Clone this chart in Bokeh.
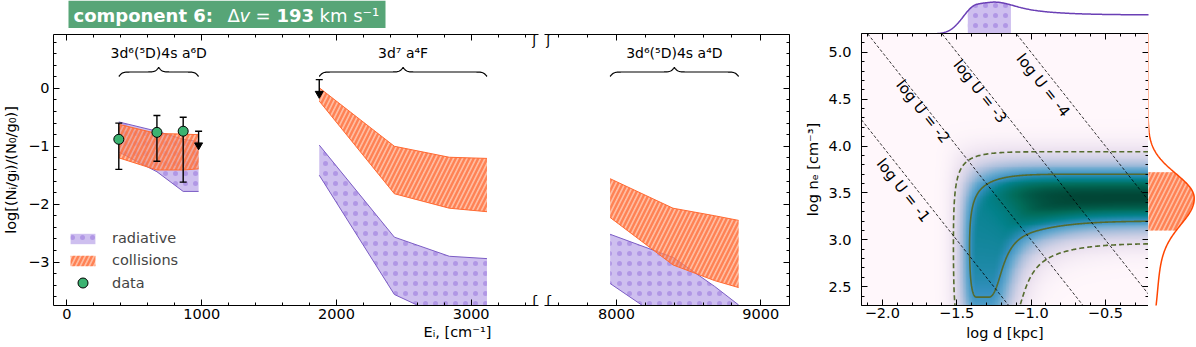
import numpy as np
from bokeh.plotting import figure
from bokeh.models import (Range1d, LinearAxis, SingleIntervalTicker, Label, BoxAnnotation,
                          Legend, LegendItem, ColumnDataSource, LinearColorMapper,
                          CustomJSTickFormatter, Title)
from bokeh.layouts import row, column
from bokeh.embed import file_html
from bokeh.resources import INLINE

FONT = "DejaVu Sans"

# ---------------------------------------------------------------- data
# Fe II level energies (cm^-1) of the three multiplets
E_a6D = [384.79, 667.68, 862.61, 977.05]
E_a4F = [1872.60, 2430.14, 2837.95, 3117.46]
E_a4D = [7955.30, 8391.94, 8680.45, 8846.77]
group_labels = ["3d⁶(⁵D)4s a⁶D", "3d⁷ a⁴F", "3d⁶(⁵D)4s a⁴D"]

# model bands, log[(Ni/gi)/(N0/g0)]
rad_hi_a6D = [-0.58, -0.74, -0.88, -0.92]
rad_lo_a6D = [-1.10, -1.44, -1.78, -1.78]
col_hi_a6D = [-0.62, -0.78, -0.79, -0.80]
col_lo_a6D = [-1.20, -1.41, -1.41, -1.39]

rad_hi_a4F = [-0.98, -2.57, -2.90, -2.94]
rad_lo_a4F = [-1.50, -3.56, -4.00, -4.10]
col_hi_a4F = [0.01, -1.00, -1.19, -1.21]
col_lo_a4F = [-0.22, -1.82, -2.07, -2.13]

rad_hi_a4D = [-2.52, -2.92, -3.42, -3.74]
rad_lo_a4D = [-3.37, -4.11, -4.50, -4.80]
col_hi_a4D = [-1.56, -2.07, -2.20, -2.28]
col_lo_a4D = [-2.23, -3.05, -3.32, -3.44]

# measured populations
data_E = [384.79, 667.68, 862.61]
data_y = [-0.88, -0.76, -0.74]
data_hi = [-0.60, -0.47, -0.50]
data_lo = [-1.40, -1.26, -1.62]
# upper limits
ul_E = [977.05, 1872.60]
ul_y = [-0.74, 0.15]

# axis limits
E_lim_low = (-100, 3500)
E_lim_high = (7500, 9200)
pop_lim = (-3.75, 0.93)
logd_lim = (-2.14, -0.21)
logne_lim = (2.3, 5.2)

# ionisation parameter lines: log ne = logU_zero - logU - 2 log d
logU_values = [-1, -2, -3, -4]
logU_zero = -1.0
logU_label_logd = [-1.80, -1.70, -1.31, -0.86]
logU_label_offset = [11, 5, 6, 11]

# posterior description
ne_peak = 3.45          # centre of the log ne band
ne_sigma = 0.25         # 1-sigma half width of the band
logd_edge_hi = -1.37    # left edge of the allowed region (too much radiation)
logd_edge_lo = -1.30    # where radiation alone gives the excitation
slope_hi = 2.9
slope_lo = 2.2
mix_floor = 0.72        # relative density where radiation dominates
mix_width = 0.35
ne_tail_width = 2.5     # gentle fall-off towards low density
ne_cut = 2.02           # low-density cut-off of the strip
ne_cut_width = 0.15
logd_interval = (-1.427, -1.131)
logne_interval = (3.10, 3.72)
contour_levels = [0.1465, 0.6065]

# ---------------------------------------------------------------- style
RAD_FILL = "#9370db"
RAD_EDGE = "#7b5cc4"
COL_FILL = "#ff9a70"
COL_HATCH = "#ff6a33"
COL_EDGE = "#ff6a33"
GREEN = "#57a577"
CONT = "#556b2f"

# frames in page pixels (left, right, top, bottom)
FA = (48, 538, 34, 305)
FB = (544, 789, 34, 305)
FM = (861, 1148, 33, 305)


def to_data(px, py, frame, xr, yr):
    l, r, t, b = frame
    return (xr[0] + (px - l) / (r - l) * (xr[1] - xr[0]),
            yr[1] - (py - t) / (b - t) * (yr[1] - yr[0]))


def fa(px, py):
    return to_data(px, py, FA, E_lim_low, pop_lim)


def fb(px, py):
    return to_data(px, py, FB, E_lim_high, pop_lim)


def fmt(dec):
    return CustomJSTickFormatter(code="const s = Math.abs(tick).toFixed(%d);"
                                      "return (tick < -1e-9 ? '\u2212' : '') + s;" % dec)


def add_axis(p, side, interval, labels=True, standoff=3, dec=0, label=None, label_standoff=5):
    ax = LinearAxis(ticker=SingleIntervalTicker(interval=interval, num_minor_ticks=5))
    ax.major_tick_in = 6
    ax.major_tick_out = 0
    ax.minor_tick_in = 3
    ax.minor_tick_out = 0
    ax.axis_line_color = "black"
    ax.major_tick_line_color = "black"
    ax.minor_tick_line_color = "black"
    ax.axis_line_width = 1
    ax.major_label_text_font = FONT
    if labels:
        ax.major_label_text_color = "black"
        ax.major_label_text_font_size = "14.5px"
        ax.major_label_standoff = standoff
        ax.formatter = fmt(dec)
    else:
        ax.major_label_text_color = None
        ax.major_label_text_font_size = "0px"
        ax.major_label_standoff = 0
    if label is not None:
        ax.axis_label = label
        ax.axis_label_text_font = FONT
        ax.axis_label_text_font_size = "14.5px"
        ax.axis_label_text_font_style = "normal"
        ax.axis_label_text_color = "black"
        ax.axis_label_standoff = label_standoff
    p.add_layout(ax, side)
    return ax


def mk_fig(width, height, xr, yr, borders):
    l, r, t, b = borders
    p = figure(width=width, height=height, x_range=xr, y_range=yr,
               x_axis_type=None, y_axis_type=None,
               min_border_left=l, min_border_right=r, min_border_top=t, min_border_bottom=b,
               output_backend="svg", toolbar_location=None)
    p.outline_line_color = None
    p.background_fill_color = "white"
    p.border_fill_color = "white"
    return p


def text(p, x, y, s, size="14.5px", align="center", style="normal", angle=0.0, color="black",
         baseline="middle"):
    lab = Label(x=x, y=y, text=s, text_font=FONT, text_font_size=size, text_align=align,
                text_baseline=baseline, text_font_style=style, angle=angle, text_color=color)
    p.add_layout(lab)
    return lab


def draw_bands(p, E, rhi, rlo, chi, clo):
    src = ColumnDataSource(dict(E=E, rhi=rhi, rlo=rlo, chi=chi, clo=clo))
    r_rad = p.varea(x="E", y1="rlo", y2="rhi", source=src, fill_color=RAD_FILL, fill_alpha=0.45,
                    hatch_pattern="dot", hatch_color=RAD_FILL, hatch_alpha=0.5,
                    hatch_scale=10, hatch_weight=1)
    p.line("E", "rhi", source=src, line_color=RAD_EDGE, line_width=1)
    p.line("E", "rlo", source=src, line_color=RAD_EDGE, line_width=1)
    r_col = p.varea(x="E", y1="clo", y2="chi", source=src, fill_color=COL_FILL, fill_alpha=0.65,
                    hatch_pattern="right_diagonal_line", hatch_color=COL_HATCH, hatch_alpha=0.7,
                    hatch_scale=9, hatch_weight=2.4)
    p.line("E", "chi", source=src, line_color=COL_EDGE, line_width=1)
    p.line("E", "clo", source=src, line_color=COL_EDGE, line_width=1)
    return r_rad, r_col


def brace(p, E, label, px_per_unit):
    y_base = fa(0, 76)[1]
    y_tip = fa(0, 67)[1]
    h = y_tip - y_base
    xs = np.linspace(min(E), max(E), 201)
    half = xs[:101]
    beta = 0.55 * px_per_unit
    yh = 1 / (1 + np.exp(-beta * (half - half[0]))) + 1 / (1 + np.exp(-beta * (half - half[-1])))
    ys = np.concatenate([yh, yh[-2::-1]])
    ys = y_base + (ys - 0.5) * h
    p.line(xs, ys, line_color="black", line_width=1.2)
    text(p, 0.5 * (min(E) + max(E)), fa(0, 52)[1], label, size="14px")


# ---------------------------------------------------------------- title strip
figTitle = mk_fig(800, 28, Range1d(0, 800), Range1d(28, 0), (0, 0, 0, 0))
figTitle.add_layout(BoxAnnotation(left=68, right=385, top=0, bottom=28, fill_color=GREEN,
                                  fill_alpha=1, line_color=None))
for s, px, style in [("component 6:", 73, "bold"), ("Δ", 227, "normal"), ("v", 239, "italic"),
                     ("=", 255, "normal"), ("193", 276, "bold"), ("km s⁻¹", 319, "normal")]:
    text(figTitle, px, 14.5, s, size="18px", align="left", style=style, color="white")

# ---------------------------------------------------------------- left panel (low E)
figA = mk_fig(544, 319, Range1d(*E_lim_low), Range1d(*pop_lim), (48, 6, 6, 42))
add_axis(figA, "below", 1000, True, 3, 0)
add_axis(figA, "left", 1, True, 4, 0, label="log[(Nᵢ/gᵢ)/(N₀/g₀)]", label_standoff=6)
add_axis(figA, "above", 1000, False)
figA.add_layout(Title(text="Eᵢ, [cm⁻¹]", align="left", offset=418 - FA[0],
                      text_font=FONT, text_font_size="14.5px", text_font_style="normal",
                      text_color="black", standoff=0), "below")

pxA = (FA[1] - FA[0]) / (E_lim_low[1] - E_lim_low[0])
rad1, col1 = draw_bands(figA, E_a6D, rad_hi_a6D, rad_lo_a6D, col_hi_a6D, col_lo_a6D)
draw_bands(figA, E_a4F, rad_hi_a4F, rad_lo_a4F, col_hi_a4F, col_lo_a4F)
brace(figA, E_a6D, group_labels[0], pxA)
brace(figA, E_a4F, group_labels[1], pxA)

# data with error bars
dsrc = ColumnDataSource(dict(E=data_E, y=data_y, hi=data_hi, lo=data_lo))
figA.segment(x0="E", y0="lo", x1="E", y1="hi", source=dsrc, line_color="black", line_width=1.4)
figA.scatter(x="E", y="hi", source=dsrc, marker="dash", size=7, line_color="black", line_width=1.4)
figA.scatter(x="E", y="lo", source=dsrc, marker="dash", size=7, line_color="black", line_width=1.4)
pts = figA.scatter(x="E", y="y", source=dsrc, marker="circle", size=10, fill_color="#3cb371",
                   line_color="black", line_width=1)

# upper limits
arrow_len = 14 / 57.9
usrc = ColumnDataSource(dict(E=ul_E, y=ul_y, end=[v - arrow_len for v in ul_y]))
figA.segment(x0="E", y0="y", x1="E", y1="end", source=usrc, line_color="black", line_width=1.4)
figA.scatter(x="E", y="y", source=usrc, marker="dash", size=7, line_color="black", line_width=1.4)
figA.scatter(x="E", y="end", source=usrc, marker="inverted_triangle", size=8,
             fill_color="black", line_color="black")

# legends
leg1 = Legend(items=[LegendItem(label="radiative", renderers=[rad1]),
                     LegendItem(label="collisions", renderers=[col1])],
              location=(14, 37), glyph_width=31, glyph_height=13, label_height=13,
              spacing=6, padding=0, margin=0, border_line_color=None, background_fill_alpha=0,
              label_standoff=14, label_text_font=FONT, label_text_font_size="14.5px")
leg2 = Legend(items=[LegendItem(label="data", renderers=[pts])],
              location=(14, 10), glyph_width=31, glyph_height=25, label_height=25,
              spacing=0, padding=0, margin=0, border_line_color=None, background_fill_alpha=0,
              label_standoff=14, label_text_font=FONT, label_text_font_size="14.5px")
figA.add_layout(leg1)
figA.add_layout(leg2)

# axis break marks
for py in (39, 300):
    text(figA, fa(534, 0)[0], fa(0, py)[1], "ʃ", size="14px")

# ---------------------------------------------------------------- left panel (high E)
figB = mk_fig(256, 319, Range1d(*E_lim_high), Range1d(*pop_lim), (0, 11, 6, 42))
add_axis(figB, "below", 1000, True, 3, 0)
add_axis(figB, "above", 1000, False)
add_axis(figB, "right", 1, False)
pxB = (FB[1] - FB[0]) / (E_lim_high[1] - E_lim_high[0])
draw_bands(figB, E_a4D, rad_hi_a4D, rad_lo_a4D, col_hi_a4D, col_lo_a4D)
brace(figB, E_a4D, group_labels[2], pxB)
for py in (39, 300):
    text(figB, fb(548, 0)[0], fb(0, py)[1], "ʃ", size="14px")

# ---------------------------------------------------------------- right panel
xr_main = Range1d(*logd_lim)
yr_main = Range1d(*logne_lim)
figM = mk_fig(348, 314, xr_main, yr_main, (61, 0, 0, 42))
add_axis(figM, "below", 0.5, True, 2, 1, label="log d [kpc]", label_standoff=4)
add_axis(figM, "left", 0.5, True, 10, 1, label="log nₑ [cm⁻³]", label_standoff=4)
add_axis(figM, "above", 0.5, False)
add_axis(figM, "right", 0.5, False)

base = ['#fff7fb', '#ece2f0', '#d0d1e6', '#a6bddb', '#67a9cf', '#3690c0', '#02818a', '#016c59', '#014636']
rgb = np.array([[int(c[i:i + 2], 16) for i in (1, 3, 5)] for c in base], float)
tp = np.linspace(0, 1, len(base))
palette = ['#%02x%02x%02x' % tuple(int(round(np.interp(t, tp, rgb[:, k]))) for k in range(3))
           for t in np.linspace(0, 1, 256)]
figM.background_fill_color = base[0]

xg = np.linspace(-2.3, -0.05, 451)
ng = np.linspace(2.0, 5.4, 341)
X, N = np.meshgrid(xg, ng)
lr_hi = ne_peak + slope_hi * (logd_edge_hi - X)
lr_lo = ne_peak + slope_lo * (logd_edge_lo - X)
neff_hi = 0.5 * np.log10(10 ** (2 * N) + 10 ** (2 * lr_hi))
neff_lo = np.log10(10 ** N + 10 ** lr_lo)
z_hi = np.clip(neff_hi - ne_peak, 0, None) / ne_sigma
z_lo = np.clip(ne_peak - neff_lo, 0, None) / ne_sigma
frac = 10 ** lr_lo / (10 ** N + 10 ** lr_lo)
mix = mix_floor + (1 - mix_floor) * np.exp(-(frac / mix_width) ** 2)
dn = np.clip(ne_peak - N, 0, None)
tail = np.exp(-0.5 * (dn / ne_tail_width) ** 2)
cut = 1 / (1 + np.exp(-(N - ne_cut) / ne_cut_width))
D = np.exp(-0.5 * (z_hi ** 2 + z_lo ** 2)) * mix * tail * cut
D = D / D.max()

cmap = LinearColorMapper(palette=palette, low=0, high=1)
figM.image(image=[D], x=xg[0], y=ng[0], dw=xg[-1] - xg[0], dh=ng[-1] - ng[0], color_mapper=cmap)

figM.contour(X, N, D, levels=[contour_levels[0]], line_color=CONT, line_width=1.6, line_dash="5 3")
figM.contour(X, N, D, levels=[contour_levels[1]], line_color=CONT, line_width=1.6)

xl = np.array(logd_lim)
sx = (FM[1] - FM[0]) / (logd_lim[1] - logd_lim[0])
sy = (FM[3] - FM[2]) / (logne_lim[1] - logne_lim[0])
ang = -np.arctan(2 * sy / sx)
for U, xlab, off in zip(logU_values, logU_label_logd, logU_label_offset):
    figM.line(xl, logU_zero - U - 2 * xl, line_color="black", line_width=0.8, line_dash="3 2")
    lx = xlab - off * np.sin(-ang) / sx
    ly = logU_zero - U - 2 * xlab - off * np.cos(-ang) / sy
    text(figM, lx, ly, "log U = %d" % U, size="15px", angle=ang)

# marginals
in_n = (ng >= logne_lim[0]) & (ng <= logne_lim[1])
in_x = (xg >= logd_lim[0]) & (xg <= logd_lim[1])
top = D[in_n, :].sum(axis=0)
top = top / top.max()
right = D[:, in_x].sum(axis=1)
right = right / right.max()

figT = mk_fig(396, 33, xr_main, Range1d(0.015, 1.05), (61, 48, 0, 0))
m = (xg >= logd_interval[0]) & (xg <= logd_interval[1])
figT.varea(x=xg[m], y1=0, y2=top[m], fill_color=RAD_FILL, fill_alpha=0.45, hatch_pattern="dot",
           hatch_color=RAD_FILL, hatch_alpha=0.5, hatch_scale=10, hatch_weight=1)
figT.line(xg, top, line_color="#6a3fb5", line_width=1.5)

figR = mk_fig(48, 314, Range1d(0.01, 1.05), yr_main, (0, 0, 0, 42))
m = (ng >= logne_interval[0]) & (ng <= logne_interval[1])
figR.harea(y=ng[m], x1=0, x2=right[m], fill_color=COL_FILL, fill_alpha=0.65,
           hatch_pattern="right_diagonal_line", hatch_color=COL_HATCH, hatch_alpha=0.7,
           hatch_scale=9, hatch_weight=2.4)
figR.line(right, ng, line_color="#ff4500", line_width=1.5)

layout = row(column(figTitle, row(figA, figB)), column(figT, row(figM, figR)))
open("out.html", "w").write(file_html(layout, INLINE))
